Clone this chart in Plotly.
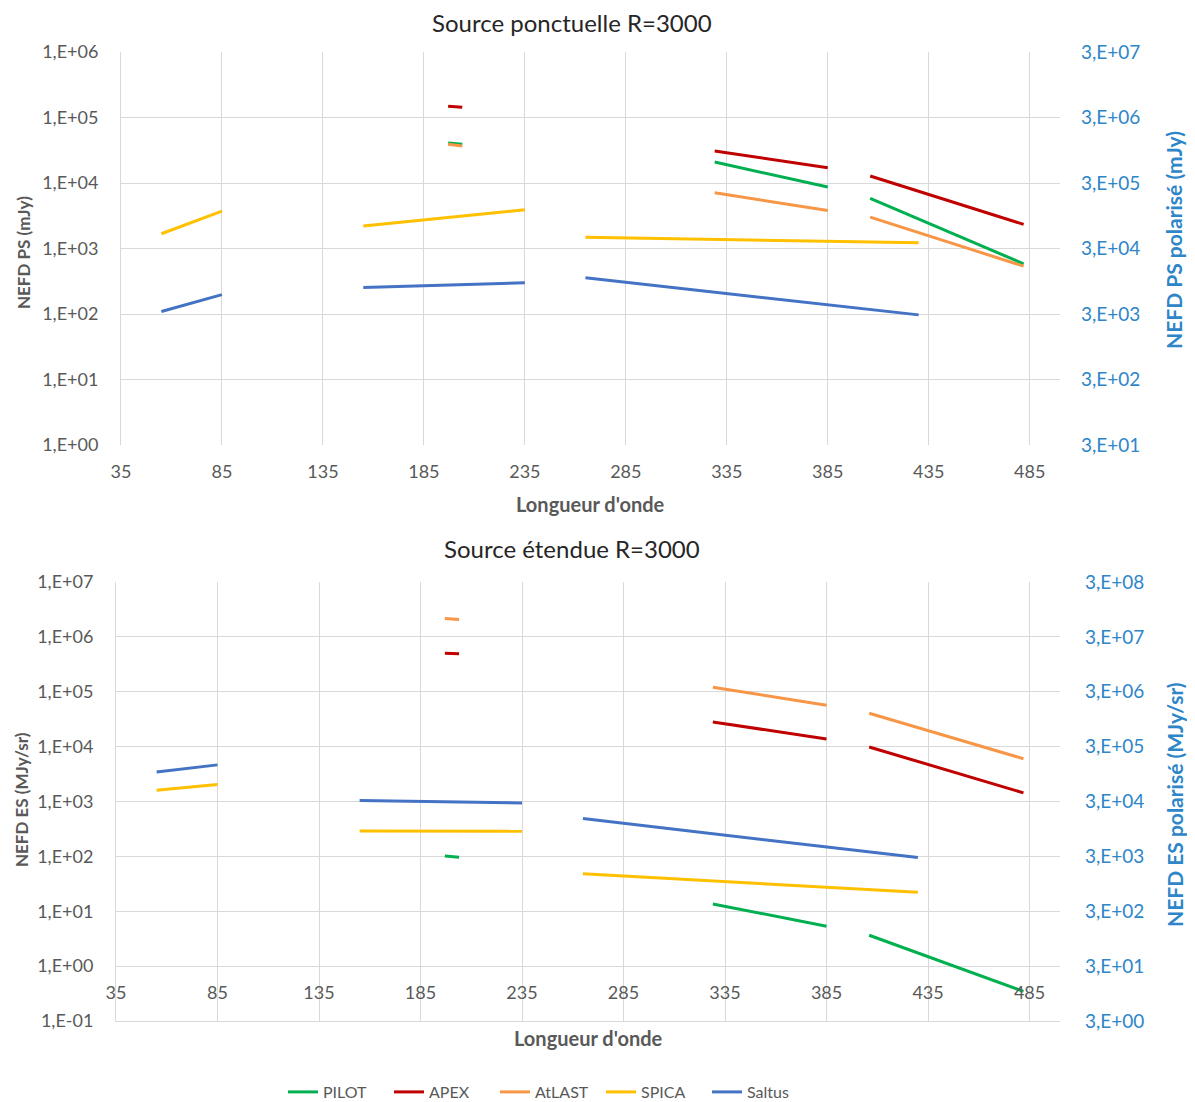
import math
import plotly.graph_objects as go

# ---------------- data ----------------
series_names = ["PILOT", "APEX", "AtLAST", "SPICA", "Saltus"]
series_colors = ["#00B050", "#C00000", "#F79646", "#FFC000", "#4472C4"]

# wavelengths (segments separated by None)
wl_ground = [197, 204, None, 329, 385, None, 406, 482]   # PILOT, APEX, AtLAST
wl_space = [55, 85, None, 155, 235, None, 265, 430]       # SPICA, Saltus

# Source ponctuelle R=3000 : NEFD PS (mJy)
ps_pilot = [40700, 38900, None, 20900, 8670, None, 5820, 584]
ps_apex = [148000, 143000, None, 30800, 17100, None, 12800, 2330]
ps_atlast = [38900, 36700, None, 7100, 3810, None, 3015, 537]
ps_spica = [1680, 3720, None, 2200, 3900, None, 1490, 1220]
ps_saltus = [109, 198, None, 254, 299, None, 357, 97]

# Source étendue R=3000 : NEFD ES (MJy/sr)
es_pilot = [102, 96, None, 13.6, 5.35, None, 3.65, 0.347]
es_apex = [505000, 491000, None, 28100, 13800, None, 9860, 1437]
es_atlast = [2170000, 2080000, None, 121000, 57000, None, 40600, 6010]
es_spica = [1610, 2050, None, 290, 286, None, 48, 22.3]
es_saltus = [3460, 4650, None, 1038, 940, None, 490, 95]

x_ticks = [35, 85, 135, 185, 235, 285, 335, 385, 435, 485]
ps_left_ticks = [1, 10, 100, 1e3, 1e4, 1e5, 1e6]
ps_left_text = ["1,E+00", "1,E+01", "1,E+02", "1,E+03", "1,E+04", "1,E+05", "1,E+06"]
ps_right_ticks = [30, 300, 3e3, 3e4, 3e5, 3e6, 3e7]
ps_right_text = ["3,E+01", "3,E+02", "3,E+03", "3,E+04", "3,E+05", "3,E+06", "3,E+07"]
es_left_ticks = [0.1, 1, 10, 100, 1e3, 1e4, 1e5, 1e6, 1e7]
es_left_text = ["1,E-01", "1,E+00", "1,E+01", "1,E+02", "1,E+03", "1,E+04", "1,E+05", "1,E+06", "1,E+07"]
es_right_ticks = [3, 30, 300, 3e3, 3e4, 3e5, 3e6, 3e7, 3e8]
es_right_text = ["3,E+00", "3,E+01", "3,E+02", "3,E+03", "3,E+04", "3,E+05", "3,E+06", "3,E+07", "3,E+08"]

# ---------------- layout helpers ----------------
PAGE_OFF = 8                      # default body margin of the html page
W, H = 1195 - PAGE_OFF, 1102 - PAGE_OFF
def fx(px):
    return (px - PAGE_OFF) / W
def fy(py):
    return 1 - (py - PAGE_OFF) / H

FONT = "Lato"
GRAY = "#595959"
BLUE = "#2E86C8"
GRID = "#D9D9D9"

fig = go.Figure()

ps_data = [(wl_ground, ps_pilot), (wl_ground, ps_apex), (wl_ground, ps_atlast),
           (wl_space, ps_spica), (wl_space, ps_saltus)]
es_data = [(wl_ground, es_pilot), (wl_ground, es_apex), (wl_ground, es_atlast),
           (wl_space, es_spica), (wl_space, es_saltus)]

for name, color, (xs, ys) in zip(series_names, series_colors, ps_data):
    fig.add_trace(go.Scatter(x=xs, y=ys, mode="lines", name=name,
                             line=dict(color=color, width=3),
                             connectgaps=False, xaxis="x", yaxis="y",
                             legendgroup=name, showlegend=True))
for name, color, (xs, ys) in zip(series_names, series_colors, es_data):
    fig.add_trace(go.Scatter(x=xs, y=ys, mode="lines", name=name,
                             line=dict(color=color, width=3),
                             connectgaps=False, xaxis="x2", yaxis="y3",
                             legendgroup=name, showlegend=False))

# empty helper traces so that the secondary (polarised) axes and the frame axis are drawn
fig.add_trace(go.Scatter(x=[], y=[], xaxis="x", yaxis="y2", showlegend=False, hoverinfo="skip"))
fig.add_trace(go.Scatter(x=[], y=[], xaxis="x2", yaxis="y4", showlegend=False, hoverinfo="skip"))
fig.add_trace(go.Scatter(x=[], y=[], xaxis="x3", yaxis="y3", showlegend=False, hoverinfo="skip"))

tickfont = dict(family=FONT, size=18, color=GRAY)
bluefont = dict(family=FONT, size=19, color=BLUE)

common_x = dict(range=[35, 500], tickvals=x_ticks, showgrid=True, gridcolor=GRID,
                gridwidth=1, zeroline=False, showline=False, tickfont=tickfont,
                ticks="", fixedrange=True, automargin=False)
common_y = dict(type="log", showgrid=True, gridcolor=GRID, zeroline=False,
                showline=True, linecolor=GRID, linewidth=1, tickfont=tickfont,
                ticks="", ticklabelstandoff=18, automargin=False, fixedrange=True)
common_y2 = dict(side="right", type="log", showgrid=False, zeroline=False,
                 showline=False, tickfont=bluefont, ticks="", automargin=False,
                 fixedrange=True)

fig.update_layout(
    width=W, height=H,
    margin=dict(l=0, r=0, t=0, b=0, autoexpand=False),
    paper_bgcolor="white", plot_bgcolor="white",
    font=dict(family=FONT, color=GRAY),
    xaxis=dict(domain=[fx(121), fx(1060)], anchor="y", ticklabelstandoff=14, **common_x),
    yaxis=dict(domain=[fy(445), fy(52)], anchor="x", range=[0, 6],
               tickvals=ps_left_ticks, ticktext=ps_left_text, **common_y),
    yaxis2=dict(overlaying="y", anchor="x", range=[math.log10(30), math.log10(3e7)],
                tickvals=ps_right_ticks, ticktext=ps_right_text,
                ticklabelstandoff=20, **common_y2),
    xaxis2=dict(domain=[fx(116), fx(1060)], anchor="free", position=fy(966),
                ticklabelstandoff=14, **common_x),
    xaxis3=dict(overlaying="x2", anchor="y3", range=[35, 500], showgrid=False,
                zeroline=False, showline=True, linecolor=GRID, linewidth=1,
                showticklabels=False, ticks="", automargin=False, fixedrange=True),
    yaxis3=dict(domain=[fy(1021), fy(582)], anchor="x2", range=[-1, 7],
                tickvals=es_left_ticks, ticktext=es_left_text, **common_y),
    yaxis4=dict(overlaying="y3", anchor="x2", range=[math.log10(3), math.log10(3e8)],
                tickvals=es_right_ticks, ticktext=es_right_text,
                ticklabelstandoff=24, **common_y2),
    legend=dict(orientation="h", x=fx(283), xanchor="left", y=fy(1092), yanchor="middle",
                font=dict(family=FONT, size=16, color=GRAY), bgcolor="rgba(0,0,0,0)",
                entrywidth=61, entrywidthmode="pixels", traceorder="normal"),
    showlegend=True,
)

annotations = [
    dict(text="Source ponctuelle R=3000", x=fx(572), y=fy(22), font=dict(family=FONT, size=24, color="#262626")),
    dict(text="Source étendue R=3000", x=fx(572), y=fy(549), font=dict(family=FONT, size=24, color="#262626")),
    dict(text="<b>Longueur d'onde</b>", x=fx(590), y=fy(504), font=dict(family=FONT, size=20, color=GRAY)),
    dict(text="<b>Longueur d'onde</b>", x=fx(588), y=fy(1038), font=dict(family=FONT, size=20, color=GRAY)),
    dict(text="<b>NEFD PS (mJy)</b>", x=fx(23), y=fy(253), textangle=-90, font=dict(family=FONT, size=17, color=GRAY)),
    dict(text="<b>NEFD ES (MJy/sr)</b>", x=fx(21), y=fy(800), textangle=-90, font=dict(family=FONT, size=17, color=GRAY)),
    dict(text="<b>NEFD PS polarisé (mJy)</b>", x=fx(1173), y=fy(240), textangle=-90, font=dict(family=FONT, size=21, color=BLUE)),
    dict(text="<b>NEFD ES polarisé (MJy/sr)</b>", x=fx(1175), y=fy(805), textangle=-90, font=dict(family=FONT, size=21, color=BLUE)),
]
for a in annotations:
    a.update(xref="paper", yref="paper", showarrow=False, xanchor="center", yanchor="middle")
fig.update_layout(annotations=annotations)

fig.write_html("out.html")
